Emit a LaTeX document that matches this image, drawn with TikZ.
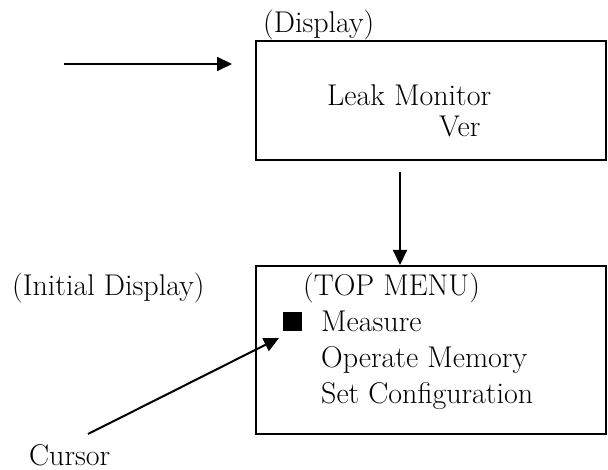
\documentclass[tikz,border=0pt]{standalone}
\usepackage{fontspec}
\usetikzlibrary{arrows.meta}
\begin{document}
\begin{tikzpicture}[x=1pt,y=-1pt,
  lbl/.style={anchor=base west,inner sep=0pt,font=\fontsize{30}{36}\selectfont},
  frame/.style={draw,line width=2pt,rectangle,inner sep=0pt},
  conn/.style={line width=2pt,-{Triangle[length=15pt,width=14pt]}},
  cur/.style={fill=black,inner sep=0pt,minimum width=19pt,minimum height=19pt}]
\useasboundingbox (0,0) rectangle (608,470);
% boxes
\node[frame,minimum width=350pt,minimum height=119pt] (disp) at (431,100.5) {};
\node[frame,minimum width=350pt,minimum height=168pt] (menu) at (431,350) {};
% texts
\node[lbl] (dlabel) at (263,33) {(Display)};
\node[lbl] (leak) at (327,106) {Leak Monitor};
\node[lbl] (ver) at (439,137) {Ver};
\node[lbl] (init) at (12,296) {(Initial Display)};
\node[lbl] (top) at (303,296) {(TOP MENU)};
\node[cur] (sq) at (292.5,322) {};
\node[lbl] (meas) at (321,332) {Measure};
\node[lbl] (oper) at (321,368) {Operate Memory};
\node[lbl] (setc) at (321,403) {Set Configuration};
\node[lbl] (curs) at (29,465) {Cursor};
% connectors
\coordinate (inS) at (64,64);
\coordinate (inE) at (232,64);
\draw[conn] (inS) -- (inE);
\coordinate (dS) at (400,172);
\draw[conn] (dS) -- (dS |- menu.north);
\coordinate (cS) at (88,434);
\coordinate (cE) at (279,338);
\draw[conn] (cS) -- (cE);
\end{tikzpicture}
\end{document}
